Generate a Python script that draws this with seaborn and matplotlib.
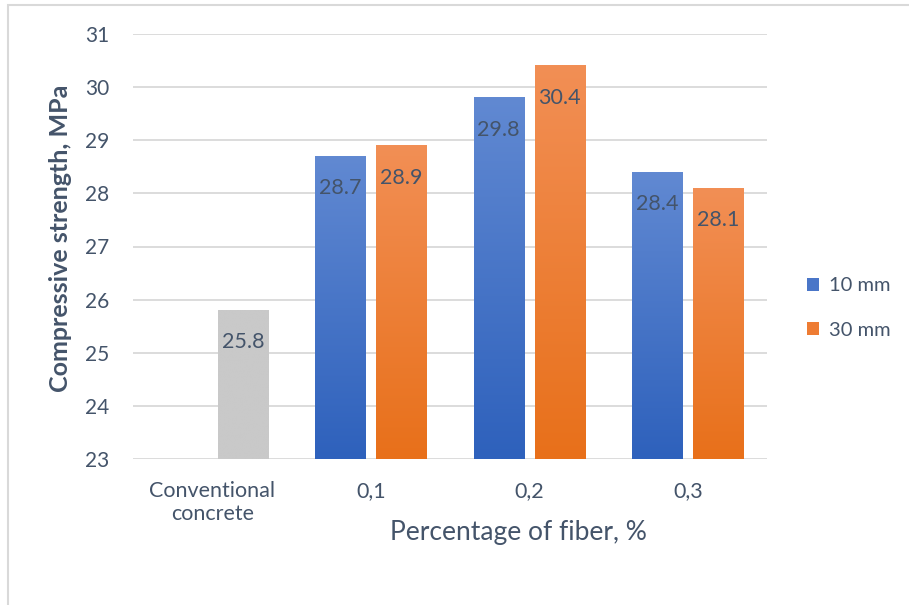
import numpy as np
import pandas as pd
import matplotlib
matplotlib.use("Agg")
import matplotlib.pyplot as plt
import seaborn as sns
from matplotlib.colors import to_rgb
from matplotlib.patches import Patch, Rectangle

# Data
categories = ["Conventional\nconcrete", "0,1", "0,2", "0,3"]
series = ["10 mm", "30 mm"]
values_10mm = [np.nan, 28.7, 29.8, 28.4]
values_30mm = [25.8, 28.9, 30.4, 28.1]
y_ticks = [23, 24, 25, 26, 27, 28, 29, 30, 31]

TEXT = "#44546A"
GRID = "#D9D9D9"
BLUE_TOP, BLUE_BOT = "#6189D2", "#2E61BC"
ORANGE_TOP, ORANGE_BOT = "#F28F55", "#E8701A"
GREY = "#C9C9C9"

df = pd.DataFrame({
    "category": categories * 2,
    "series": [series[0]] * 4 + [series[1]] * 4,
    "value": values_10mm + values_30mm,
})

sns.set_theme(style="white")
plt.rcParams["font.family"] = ["Lato", "DejaVu Sans"]

fig = plt.figure(figsize=(9.09, 6.05), dpi=100)
ax = fig.add_axes([133 / 909, 1 - 459 / 605, 634 / 909, 425 / 605])

sns.barplot(data=df, x="category", y="value", hue="series", order=categories,
            hue_order=series, palette=[BLUE_BOT, ORANGE_BOT], width=0.77,
            gap=0.18, ax=ax, legend=False, zorder=3)

ymin, ymax = 23, 31
ax.set_ylim(ymin, ymax)
xlim = ax.get_xlim()


def gradient(top, bot, n=256):
    t = np.linspace(0, 1, n)[:, None]
    c0, c1 = np.array(to_rgb(bot)), np.array(to_rgb(top))
    return (c0 + (c1 - c0) * t)[:, None, :]


# Replace flat fills with vertical gradients
fills = {0: (BLUE_TOP, BLUE_BOT), 1: (ORANGE_TOP, ORANGE_BOT)}
label_pos = []
for s, container in enumerate(ax.containers[:2]):
    for cat, bar in enumerate(container):
        h = bar.get_height()
        if not np.isfinite(h) or h == 0:
            continue
        x0, w = bar.get_x(), bar.get_width()
        top = bar.get_y() + h
        if s == 1 and cat == 0:
            img = gradient(GREY, GREY)
        else:
            img = gradient(*fills[s])
        ax.imshow(img, extent=[x0, x0 + w, ymin, top], origin="lower",
                  aspect="auto", zorder=3, interpolation="bilinear")
        bar.set_facecolor("none")
        bar.set_edgecolor("none")
        label_pos.append((x0 + w / 2, top))

for xc, top in label_pos:
    ax.annotate(f"{top:.1f}", xy=(xc, top), xytext=(0, -32),
                textcoords="offset pixels", ha="center", va="center",
                fontsize=15.5, color=TEXT, zorder=5)

ax.set_xlim(xlim)
ax.set_ylim(ymin, ymax)
ax.set_yticks(y_ticks)
ax.yaxis.grid(True, color=GRID, linewidth=1.3, zorder=0)
ax.set_axisbelow(True)
for sp in ax.spines.values():
    sp.set_visible(False)
ax.tick_params(axis="y", length=0, pad=17, labelsize=15, labelcolor=TEXT)
ax.tick_params(axis="x", length=0, pad=16, labelsize=15.5, labelcolor=TEXT)
for lbl in ax.get_xticklabels():
    lbl.set_linespacing(1.15)

ax.set_ylabel("Compressive strength, MPa", fontsize=18, fontweight="bold",
              color=TEXT)
ax.yaxis.set_label_coords((72 - 133) / 634, (459 - 238) / 425)
ax.set_xlabel("Percentage of fiber, %", fontsize=19, color=TEXT)
ax.xaxis.set_label_coords((518 - 133) / 634, (459 - 520) / 425)

handles = [Patch(facecolor="#4A76C8", edgecolor="none"),
           Patch(facecolor="#EE7C33", edgecolor="none")]
fig.legend(handles, series, loc="center left",
           bbox_to_anchor=(807 / 909, 1 - 308 / 605), frameon=False,
           fontsize=14.5, labelcolor=TEXT, handlelength=0.62,
           handleheight=0.62, handletextpad=0.45, labelspacing=1.35,
           borderaxespad=0, borderpad=0)

# Chart-area border
fig.patches.append(Rectangle((8 / 909, -0.05), 1.2, 1 - 5 / 605 + 0.05,
                             transform=fig.transFigure, fill=False,
                             edgecolor=GRID, linewidth=1.5, zorder=0))

fig.savefig("out.png", dpi=100, facecolor="white")
